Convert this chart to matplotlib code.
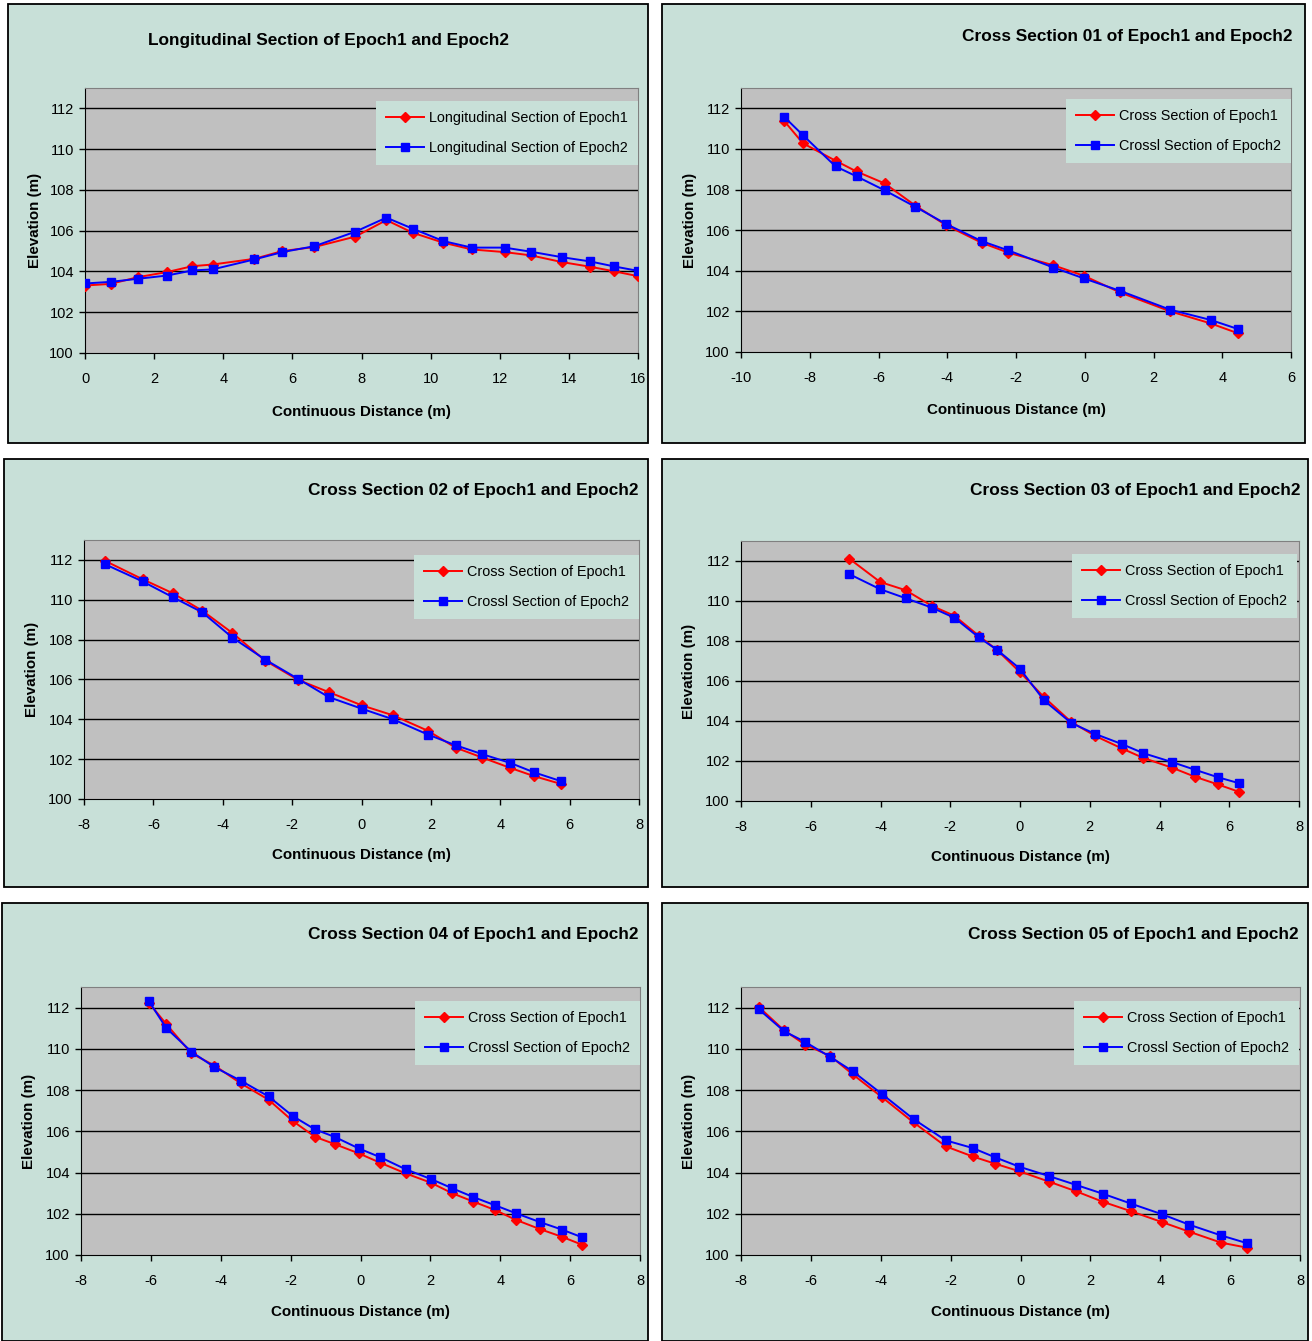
import matplotlib
matplotlib.use("Agg")
import matplotlib.pyplot as plt
from matplotlib.patches import Rectangle

plt.rcParams['font.family'] = ['Liberation Sans', 'DejaVu Sans']
plt.rcParams['axes.unicode_minus'] = False

W, H = 1312, 1341

# ---- data ----
long_x = [0, 0.74, 1.53, 2.37, 3.11, 3.69, 4.90, 5.71, 6.64, 7.82,
          8.72, 9.48, 10.37, 11.19, 12.14, 12.90, 13.80, 14.62, 15.30, 16.0]
long_e1 = [103.31, 103.39, 103.72, 103.97, 104.26, 104.34, 104.62, 105.00, 105.20, 105.71,
           106.52, 105.90, 105.41, 105.08, 104.95, 104.79, 104.46, 104.23, 104.01, 103.77]
long_e2 = [103.41, 103.49, 103.64, 103.80, 104.05, 104.10, 104.59, 104.95, 105.24, 105.95,
           106.64, 106.10, 105.49, 105.17, 105.17, 104.97, 104.70, 104.49, 104.25, 104.03]

cs01_x = [-8.75, -8.20, -7.25, -6.64, -5.82, -4.93, -4.04, -3.00, -2.22, -0.91,
          -0.02, 1.03, 2.49, 3.66, 4.46]
cs01_e1 = [111.39, 110.28, 109.42, 108.89, 108.30, 107.21, 106.25, 105.38, 104.89, 104.27,
           103.75, 102.93, 102.00, 101.41, 100.92]
cs01_e2 = [111.59, 110.68, 109.14, 108.65, 107.96, 107.15, 106.31, 105.46, 105.00, 104.16,
           103.62, 103.01, 102.08, 101.58, 101.13]

cs02_x = [-7.39, -6.31, -5.43, -4.59, -3.72, -2.78, -1.83, -0.95, 0.01, 0.91,
          1.92, 2.71, 3.48, 4.29, 4.97, 5.76]
cs02_e1 = [111.95, 111.03, 110.32, 109.45, 108.33, 106.95, 105.98, 105.37, 104.70, 104.20,
           103.42, 102.58, 102.08, 101.56, 101.15, 100.75]
cs02_e2 = [111.78, 110.92, 110.12, 109.37, 108.10, 107.00, 106.03, 105.12, 104.53, 104.00,
           103.23, 102.70, 102.25, 101.81, 101.34, 100.89]

cs03_x = [-4.89, -4.01, -3.28, -2.53, -1.88, -1.18, -0.66, 0.0, 0.69, 1.47,
          2.16, 2.93, 3.54, 4.37, 5.02, 5.67, 6.28]
cs03_e1 = [112.11, 110.95, 110.54, 109.76, 109.26, 108.26, 107.55, 106.44, 105.19, 103.95,
           103.25, 102.62, 102.15, 101.66, 101.21, 100.83, 100.46]
cs03_e2 = [111.34, 110.59, 110.14, 109.67, 109.16, 108.18, 107.56, 106.61, 105.03, 103.90,
           103.35, 102.84, 102.39, 101.94, 101.56, 101.19, 100.89]

cs04_x = [-6.06, -5.56, -4.84, -4.18, -3.43, -2.63, -1.94, -1.30, -0.74, -0.05,
          0.57, 1.29, 2.01, 2.62, 3.23, 3.84, 4.44, 5.13, 5.77, 6.34]
cs04_e1 = [112.24, 111.20, 109.78, 109.19, 108.33, 107.53, 106.50, 105.73, 105.38, 104.93,
           104.47, 103.96, 103.51, 103.00, 102.59, 102.19, 101.71, 101.26, 100.88, 100.50]
cs04_e2 = [112.32, 111.01, 109.86, 109.11, 108.46, 107.69, 106.74, 106.09, 105.73, 105.17,
           104.74, 104.16, 103.69, 103.24, 102.81, 102.42, 102.03, 101.60, 101.23, 100.86]

cs05_x = [-7.49, -6.77, -6.17, -5.44, -4.80, -3.96, -3.06, -2.14, -1.37, -0.73,
          -0.03, 0.83, 1.59, 2.36, 3.15, 4.06, 4.83, 5.74, 6.47]
cs05_e1 = [112.03, 110.90, 110.21, 109.65, 108.76, 107.65, 106.43, 105.27, 104.78, 104.43,
           104.06, 103.55, 103.09, 102.58, 102.13, 101.59, 101.13, 100.60, 100.36]
cs05_e2 = [111.92, 110.86, 110.34, 109.60, 108.91, 107.80, 106.59, 105.56, 105.19, 104.74,
           104.28, 103.82, 103.40, 102.97, 102.50, 101.97, 101.47, 100.95, 100.58]

titles = ['Longitudinal Section of Epoch1 and Epoch2',
          'Cross Section 01 of Epoch1 and Epoch2',
          'Cross Section 02 of Epoch1 and Epoch2',
          'Cross Section 03 of Epoch1 and Epoch2',
          'Cross Section 04 of Epoch1 and Epoch2',
          'Cross Section 05 of Epoch1 and Epoch2']
long_labels = ['Longitudinal Section of Epoch1', 'Longitudinal Section of Epoch2']
cross_labels = ['Cross Section of Epoch1', 'Crossl Section of Epoch2']

series = [(long_x, long_e1, long_e2, (0, 16), long_labels),
          (cs01_x, cs01_e1, cs01_e2, (-10, 6), cross_labels),
          (cs02_x, cs02_e1, cs02_e2, (-8, 8), cross_labels),
          (cs03_x, cs03_e1, cs03_e2, (-8, 8), cross_labels),
          (cs04_x, cs04_e1, cs04_e2, (-8, 8), cross_labels),
          (cs05_x, cs05_e1, cs05_e2, (-8, 8), cross_labels)]

# ---- layout in pixels ----
boxes = [(8, 4, 648, 443), (662, 4, 1305, 443),
         (4, 459, 648, 887), (662, 459, 1308, 887),
         (2, 903, 648, 1341), (662, 903, 1308, 1341)]
plots = [(85, 88, 638, 353), (741, 88, 1291, 352),
         (84, 540, 639, 799), (741, 541, 1299, 801),
         (81, 987, 640, 1255), (741, 987, 1300, 1255)]
title_pos = [(329, 40, 'center'), (1292, 36, 'right'),
             (638, 490, 'right'), (1300, 491, 'right'),
             (638, 935, 'right'), (1299, 935, 'right')]
xlabel_y = [412, 410, 855, 857, 1312, 1312]
ylabel_x = [35, 690, 32, 689, 29, 689]
legend_tr = [(638, 101), (1291, 99), (639, 555), (1297, 554), (640, 1001), (1299, 1001)]

BG = '#c8e0d8'
PLOT_BG = '#c0c0c0'

fig = plt.figure(figsize=(W / 100, H / 100), dpi=100)
fig.patch.set_facecolor('white')


def fx(px):
    return px / W


def fy(py):
    return 1 - py / H


for i, (xs, e1, e2, xlim, labels) in enumerate(series):
    bx0, by0, bx1, by1 = boxes[i]
    fig.add_artist(Rectangle((fx(bx0), fy(by1)), fx(bx1 - bx0), (by1 - by0) / H,
                             facecolor=BG, edgecolor='black', linewidth=1.3,
                             transform=fig.transFigure, zorder=0))

    px0, py0, px1, py1 = plots[i]
    ax = fig.add_axes([fx(px0), fy(py1), fx(px1 - px0), (py1 - py0) / H])
    ax.set_facecolor(PLOT_BG)
    ax.set_xlim(*xlim)
    ax.set_ylim(100, 113)
    ax.set_xticks(range(xlim[0], xlim[1] + 1, 2))
    ax.set_yticks(range(100, 113, 2))
    for yv in range(102, 113, 2):
        ax.axhline(yv, color='black', linewidth=1.0, zorder=1)

    ax.plot(xs, e1, color='red', marker='D', markersize=5.5, linewidth=1.4,
            label=labels[0], zorder=3)
    ax.plot(xs, e2, color='blue', marker='s', markersize=6, linewidth=1.4,
            label=labels[1], zorder=4)

    for side in ('top', 'right'):
        ax.spines[side].set_color('#808080')
    for side in ('left', 'bottom'):
        ax.spines[side].set_color('black')
    ax.tick_params(direction='out', length=4, width=1, labelsize=10.5, pad=10,
                   colors='black')
    ax.tick_params(axis='y', pad=4)

    lx, ly = legend_tr[i]
    leg = ax.legend(loc='upper right', bbox_to_anchor=(fx(lx), fy(ly)),
                    bbox_transform=fig.transFigure, fontsize=10.4, frameon=True,
                    fancybox=False, framealpha=1, facecolor=BG, edgecolor=BG,
                    handlelength=2.6, handletextpad=0.35, labelspacing=1.1,
                    borderpad=0.7, borderaxespad=0)
    leg.get_frame().set_linewidth(0)

    tx, ty, ha = title_pos[i]
    fig.text(fx(tx), fy(ty), titles[i], ha=ha, va='center', fontsize=12.4,
             fontweight='bold')
    fig.text(fx((px0 + px1) / 2), fy(xlabel_y[i]), 'Continuous Distance (m)',
             ha='center', va='center', fontsize=10.9, fontweight='bold')
    fig.text(fx(ylabel_x[i]), fy((py0 + py1) / 2), 'Elevation (m)',
             ha='center', va='center', rotation=90, fontsize=10.9,
             fontweight='bold')

fig.savefig('out.png', dpi=100, facecolor='white')
